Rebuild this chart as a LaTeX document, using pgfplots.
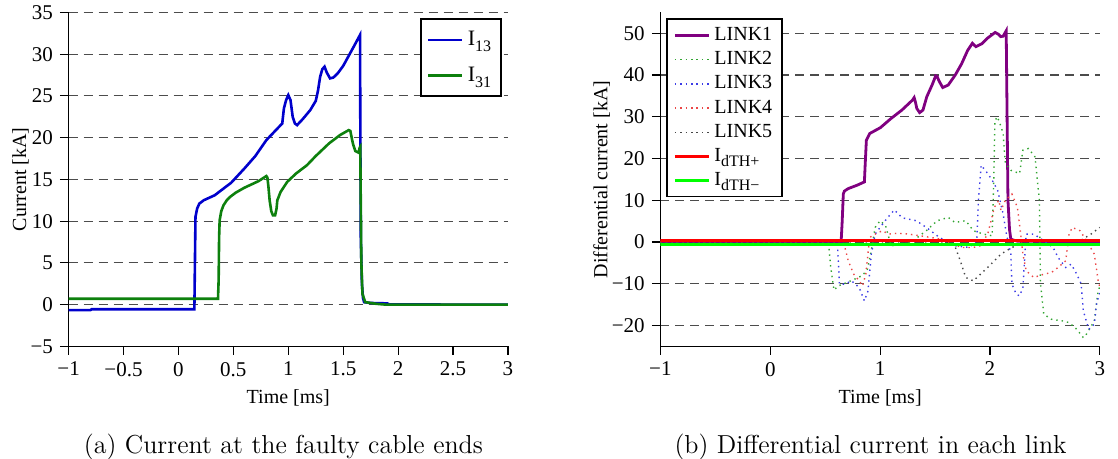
\documentclass[border=0pt]{standalone}
\usepackage{fontspec}
\usepackage{pgfplots}
\pgfplotsset{compat=1.18}
\newfontfamily\tnr{Liberation Serif}
\newcommand{\sub}[1]{\raisebox{-0.6ex}{\fontsize{8}{9}\selectfont #1}}

\definecolor{cI13}{rgb}{0,0,0.8}
\definecolor{cI31}{rgb}{0.05,0.5,0.05}
\definecolor{cL1}{rgb}{0.5,0,0.5}
\definecolor{cL2}{RGB}{50,165,50}
\definecolor{cL3}{RGB}{60,60,230}
\definecolor{cL4}{RGB}{235,70,70}
\definecolor{cL5}{RGB}{70,70,70}

\pgfplotsset{
  cable/.style={
    scale only axis,
    width=219.7pt, height=167pt,
    xmin=-1, xmax=3,
    axis x line=bottom, axis y line=left,
    axis line style={-, line width=0.6pt},
    tick align=outside,
    major tick length=4.3pt,
    tick style={black, line width=0.6pt},
    ymajorgrids,
    grid style={dash pattern=on 4.5pt off 3pt, black!70, line width=0.6pt},
    label style={font=\tnr\fontsize{10}{12}\selectfont},
    ticklabel style={font=\tnr\fontsize{10.5}{12}\selectfont},
    ylabel shift=-6pt,
    legend cell align=left,
    legend style={draw=black, line width=0.9pt, font=\tnr\fontsize{10}{12}\selectfont},
  },
}

\begin{document}
\begin{tikzpicture}
\useasboundingbox (0,0) rectangle (559pt,229.5pt);

% (a) current at both cable ends
\begin{axis}[cable,
    at={(34.3pt,56.3pt)}, anchor=south west,
    ymin=-5, ymax=35,
    xtick={-1,-0.5,0,0.5,1,1.5,2,2.5,3},
    xticklabels={−1,−0.5,0,0.5,1,1.5,2,2.5,3},
    ytick={-5,0,5,10,15,20,25,30,35},
    yticklabels={−5,0,5,10,15,20,25,30,35},
    xlabel={Time [ms]},
    ylabel={Current [kA]},
    legend style={at={(1,1)}, anchor=north east, xshift=-3pt, yshift=-3pt,
      font=\tnr\fontsize{11}{13}\selectfont, row sep=5pt, inner ysep=4pt},
]
\addplot[cI13, line width=1.3pt] coordinates {
(-1,-0.65) (-0.8,-0.65) (-0.79,-0.55) (0.145,-0.55) (0.15,5) (0.155,10.5)
(0.17,11.5) (0.19,12.1) (0.23,12.5) (0.33,13.1) (0.39,13.7) (0.48,14.6)
(0.6,16.3) (0.7,17.8) (0.8,19.7) (0.945,21.7) (0.96,23.5) (0.98,24.5)
(1.0,25.1) (1.02,24.5) (1.04,22.5) (1.06,21.7) (1.08,21.5) (1.13,22.2)
(1.2,23.3) (1.25,24.4) (1.27,25.6) (1.29,27.3) (1.31,28.2) (1.33,28.5)
(1.35,27.8) (1.38,27.1) (1.41,27.2) (1.45,27.7) (1.50,28.6) (1.55,29.8)
(1.6,31.0) (1.653,32.3) (1.656,20) (1.66,8) (1.67,2.5) (1.68,0.8) (1.69,0.3)
(1.75,0.2) (1.9,0.15) (1.92,0.02) (3,0)
};
\addlegendentry{I\sub{13}}
\addplot[cI31, line width=1.3pt] coordinates {
(-1,0.7) (0.36,0.7) (0.366,3) (0.37,8) (0.375,10.1) (0.39,11.2) (0.41,11.9)
(0.44,12.5) (0.47,12.9) (0.52,13.4) (0.60,14.0) (0.73,14.8) (0.80,15.4)
(0.81,15.2) (0.82,14.0) (0.83,12.5) (0.845,11.2) (0.86,10.7) (0.88,10.7)
(0.893,11.5) (0.90,12.5) (0.93,13.5) (0.99,14.7) (1.07,15.7) (1.17,16.7)
(1.25,17.8) (1.37,19.3) (1.47,20.3) (1.55,20.9) (1.565,20.8) (1.58,19.8)
(1.59,19.2) (1.61,18.4) (1.64,18.2) (1.65,18.8) (1.655,18.9) (1.66,12)
(1.665,5) (1.675,1.3) (1.70,0.3) (1.8,0.1) (1.89,0) (3,0)
};
\addlegendentry{I\sub{31}}
\end{axis}

% (b) differential current in each link
\begin{axis}[cable,
    at={(330.2pt,56.3pt)}, anchor=south west,
    ymin=-25, ymax=55,
    xtick={-1,0,1,2,3},
    xticklabels={−1,0,1,2,3},
    ytick={-20,-10,0,10,20,30,40,50},
    yticklabels={−20,−10,0,10,20,30,40,50},
    xlabel={Time [ms]},
    ylabel={Differential current [kA]},
    legend style={at={(0,1)}, anchor=north west, xshift=3pt, yshift=-3pt},
]
\addplot[cL1, line width=1.4pt] coordinates {
(-1,0) (0.645,0) (0.655,5) (0.665,11.5) (0.675,12.2) (0.71,12.8) (0.79,13.6)
(0.857,14.4) (0.865,19) (0.875,24.4) (0.906,26) (1.003,27.4) (1.10,29.6)
(1.198,31.6) (1.295,34.0) (1.31,34.6) (1.322,33.5) (1.334,32.0) (1.36,31.0)
(1.39,31.6) (1.425,34.8) (1.473,37.6) (1.506,39.8) (1.52,39.6) (1.538,38.5)
(1.57,37.0) (1.62,37.6) (1.684,40.0) (1.742,42.7) (1.797,45.9) (1.84,47.6)
(1.872,46.8) (1.927,47.5) (1.976,48.8) (2.047,50.2) (2.075,49.8) (2.099,49.2)
(2.12,49.3) (2.148,50.6) (2.156,30) (2.164,10) (2.178,3) (2.19,0.7) (2.21,0.5)
(2.25,0.2) (3,0)
};
\addlegendentry{LINK1}
\addplot[cL2, dotted, line width=0.7pt] coordinates {
(-1,0) (0.50,0) (0.535,-1.5) (0.55,-6) (0.58,-11.5) (0.62,-10.5) (0.67,-10)
(0.76,-9) (0.84,-8) (0.885,-6.5) (0.92,-2) (0.955,3.5) (1.0,5.1) (1.05,3.9)
(1.1,-0.9) (1.2,-0.5) (1.3,0.3) (1.42,2.7) (1.52,5.1) (1.62,5.9) (1.68,4.7)
(1.78,5.1) (1.85,2.7) (1.94,1.9) (2.02,1.5) (2.035,15) (2.045,29) (2.066,30)
(2.09,28.5) (2.12,26) (2.14,18.8) (2.19,17.2) (2.27,16.4) (2.30,22) (2.35,22.4)
(2.41,20.4) (2.45,10) (2.46,-10) (2.49,-17.3) (2.56,-18.5) (2.66,-18.9)
(2.72,-19.3) (2.79,-20.9) (2.85,-22.9) (2.88,-22) (2.95,-18.9) (2.98,-12.5)
(3.0,-10.5)
};
\addlegendentry{LINK2}
\addplot[cL3, dotted, line width=0.7pt] coordinates {
(-1,0) (0.60,0) (0.614,-1.7) (0.63,-10.1) (0.68,-10.1) (0.74,-9.3) (0.81,-10.9)
(0.857,-14.1) (0.89,-11.7) (0.92,-2.9) (0.955,1.9) (1.0,3.5) (1.07,5.9)
(1.13,7.7) (1.2,5.8) (1.33,5.1) (1.42,3.5) (1.52,1.5) (1.59,0.3) (1.68,-0.9)
(1.81,-1.3) (1.88,0.3) (1.895,10) (1.92,18.4) (1.98,16.4) (2.02,14.8)
(2.07,12.4) (2.12,6.7) (2.15,1.9) (2.19,-2.9) (2.20,-10.1) (2.24,-12.5)
(2.27,-12.9) (2.30,-10.9) (2.32,-2.1) (2.33,1.9) (2.40,1.9) (2.49,0.3)
(2.575,-1.3) (2.62,-3.7) (2.69,-6.1) (2.74,-5.3) (2.79,-7.7) (2.83,-10)
(2.85,-16.5) (2.90,-20.9) (2.95,-19.7) (2.97,-14.9) (3.0,-12)
};
\addlegendentry{LINK3}
\addplot[cL4, dotted, line width=0.7pt] coordinates {
(-1,0) (0.66,0) (0.68,-1.3) (0.71,-4.5) (0.76,-7.7) (0.81,-9.3) (0.84,-10.5)
(0.87,-7.7) (0.905,1.1) (0.955,1.9) (1.02,2.7) (1.08,1.9) (1.16,2.1) (1.26,1.9)
(1.36,1.5) (1.46,1.1) (1.55,0.7) (1.65,-0.5) (1.75,-1.3) (1.85,-1.3)
(1.91,-0.9) (1.98,1.9) (2.04,8.3) (2.08,10) (2.1,7.6) (2.14,10) (2.2,11.5)
(2.25,8.3) (2.28,1.9) (2.30,-2.9) (2.33,-6.9) (2.40,-8.5) (2.49,-7.7)
(2.56,-7.3) (2.62,-6.1) (2.69,-4.5) (2.72,1.9) (2.75,3.5) (2.82,2.7)
(2.88,0.3) (2.95,-2.9) (2.99,-10.1) (3.0,-10.5)
};
\addlegendentry{LINK4}
\addplot[cL5, dotted, line width=0.7pt] coordinates {
(-1,0) (1.6,0) (1.68,-0.9) (1.73,-4.5) (1.78,-8.5) (1.85,-9.3) (1.93,-7.3)
(2.01,-5.3) (2.10,-2.9) (2.2,-1.3) (2.30,-0.3) (2.40,0) (2.6,0.3) (2.82,0.3)
(2.92,1.9) (3.0,3.5)
};
\addlegendentry{LINK5}
\addplot[red, line width=1.5pt] coordinates {(-1,0.3) (3,0.3)};
\addlegendentry{I\sub{dTH+}}
\addplot[green, line width=1.5pt] coordinates {(-1,-0.5) (3,-0.5)};
\addlegendentry{I\sub{dTH−}}
\end{axis}

\node[anchor=base, font=\fontsize{13}{15}\selectfont] at (141.7pt,2.7pt)
  {(a) Current at the faulty cable ends};
\node[anchor=base, font=\fontsize{13}{15}\selectfont] at (435.3pt,2.7pt)
  {(b) Differential current in each link};
\end{tikzpicture}
\end{document}
